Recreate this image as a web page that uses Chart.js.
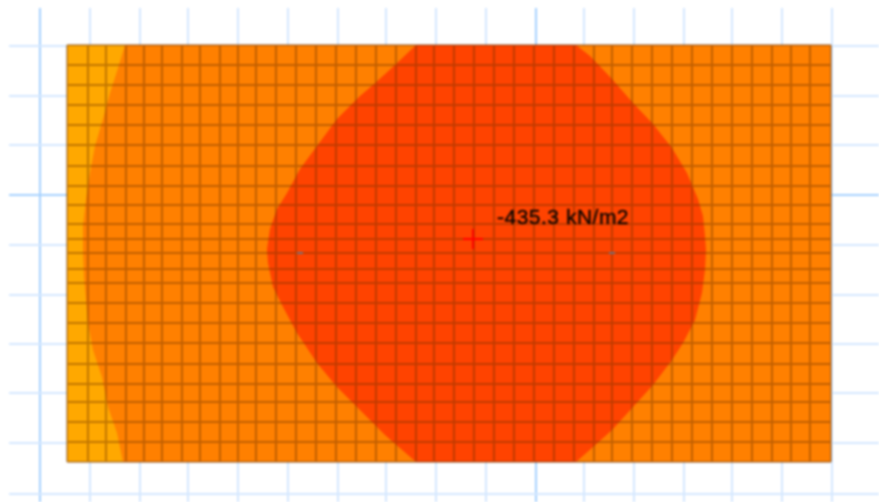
<!DOCTYPE html>
<html>
<head>
<meta charset="utf-8">
<title>Contour</title>
<script src="https://cdn.jsdelivr.net/npm/chart.js@4"></script>
<style>
  html, body { margin: 0; padding: 0; background: #fff; overflow: hidden; }
  /* the reference is a soft, upscaled screenshot */
  #chart { display: block; filter: blur(0.8px); }
</style>
</head>
<body>
<canvas id="chart" width="879" height="502"></canvas>
<script>
var blueX = [40, 90, 140, 188, 238, 288, 338, 386, 436, 486, 536, 584, 634, 684, 732, 782, 832];
var blueY = [46, 96, 145, 195, 245, 295, 344, 393, 443, 494];
var blueMajorX = [40, 536];
var blueMajorY = [195];

var meshX = [67, 88, 106, 126, 144, 162, 182, 200, 220, 238, 256, 276, 296, 316, 336, 356, 376, 396, 416, 434,
  454, 474, 494, 514, 534, 554, 574, 594, 612, 632, 652, 672, 692, 712, 732, 752, 772, 791, 810, 831];
var meshY = [45, 65, 85, 105, 125, 145, 166, 186, 205, 224, 239, 253, 269, 283, 303, 323, 343, 364, 384, 402, 422, 442, 462];

var plateX = [67, 831, 831, 67];
var plateY = [45, 45, 462, 462];

var lowX = [67, 125, 119, 110, 103, 95, 90, 86, 83, 83, 84, 88, 93, 102, 108, 117, 123, 67];
var lowY = [45, 45, 65, 93, 119, 146, 173, 199, 226, 250, 277, 323, 350, 377, 407, 433, 462, 462];

var highX = [416, 576, 590, 612, 633, 653, 672, 687, 698, 703, 705, 706, 705, 702, 695, 683, 672, 653, 633, 612, 593, 576,
  416, 385, 360, 337, 317, 297, 283, 273, 268, 267, 267, 270, 277, 287, 300, 317, 337, 360, 373, 395];
var highY = [45, 45, 56, 79, 103, 124, 148, 173, 199, 216, 236, 250, 270, 293, 320, 343, 360, 385, 407, 430, 447, 462,
  462, 435, 410, 387, 363, 333, 307, 287, 263, 250, 249, 229, 209, 193, 169, 146, 119, 96, 85, 65];

var nodeX = [300, 612];
var nodeY = [253, 253];
var peakX = [473];
var peakY = [239];
var peakLabel = '-435.3 kN/m2';
var labelX = 497;
var labelY = 224;

function toPoints(xs, ys) {
  return xs.map(function (x, i) { return { x: x, y: ys[i] }; });
}

function meshPoints() {
  var pts = [];
  meshX.forEach(function (x) {
    pts.push({ x: x, y: meshY[0] }, { x: x, y: meshY[meshY.length - 1] }, { x: x, y: NaN });
  });
  meshY.forEach(function (y) {
    pts.push({ x: meshX[0], y: y }, { x: meshX[meshX.length - 1], y: y }, { x: NaN, y: y });
  });
  return pts;
}

function blueAxis(min, max, ticks, major, reverse) {
  return {
    type: 'linear',
    min: min,
    max: max,
    reverse: reverse,
    border: { display: false },
    ticks: { display: false },
    afterBuildTicks: function (axis) {
      axis.ticks = ticks.map(function (v) { return { value: v }; });
    },
    grid: {
      drawTicks: false,
      lineWidth: 2,
      color: function (c) {
        return major.indexOf(c.tick.value) >= 0 ? '#a6d2ff' : '#d5e8ff';
      }
    }
  };
}

var labelPlugin = {
  id: 'peakLabel',
  afterDatasetsDraw: function (chart) {
    var ctx = chart.ctx;
    var x = chart.scales.x.getPixelForValue(labelX);
    var y = chart.scales.y.getPixelForValue(labelY);
    ctx.save();
    ctx.font = '21px "Liberation Sans"';
    ctx.letterSpacing = '0.5px';
    ctx.fillStyle = '#0e0600';
    ctx.strokeStyle = '#0e0600';
    ctx.lineWidth = 0.4;
    ctx.textBaseline = 'alphabetic';
    ctx.fillText(peakLabel, x, y);
    ctx.strokeText(peakLabel, x, y);
    ctx.restore();
  }
};

var chart = new Chart(document.getElementById('chart').getContext('2d'), {
  type: 'scatter',
  data: {
    datasets: [
      { data: toPoints(peakX, peakY), pointStyle: 'cross', pointRadius: 10, pointBorderWidth: 2, pointBorderColor: '#ff0000' },
      { data: toPoints(nodeX, nodeY), pointStyle: 'line', pointRadius: 3, pointBorderWidth: 2, pointBorderColor: '#6f6c74' },
      { data: meshPoints(), showLine: true, pointRadius: 0, borderWidth: 2, borderColor: 'rgba(110,50,0,0.42)', spanGaps: false },
      { data: toPoints(lowX, lowY), showLine: true, pointRadius: 0, borderWidth: 0, fill: 'shape', backgroundColor: '#ffa800' },
      { data: toPoints(highX, highY), showLine: true, pointRadius: 0, borderWidth: 0, fill: 'shape', backgroundColor: '#ff4300' },
      { data: toPoints(plateX, plateY), showLine: true, pointRadius: 0, borderWidth: 0, fill: 'shape', backgroundColor: '#ff8000' }
    ]
  },
  options: {
    responsive: false,
    animation: false,
    layout: { autoPadding: false, padding: { left: 9, top: 8, right: 0, bottom: 0 } },
    plugins: { legend: { display: false }, tooltip: { enabled: false } },
    scales: {
      x: blueAxis(9, 879, blueX, blueMajorX, false),
      y: blueAxis(8, 502, blueY, blueMajorY, true)
    }
  },
  plugins: [labelPlugin]
});
</script>
</body>
</html>
